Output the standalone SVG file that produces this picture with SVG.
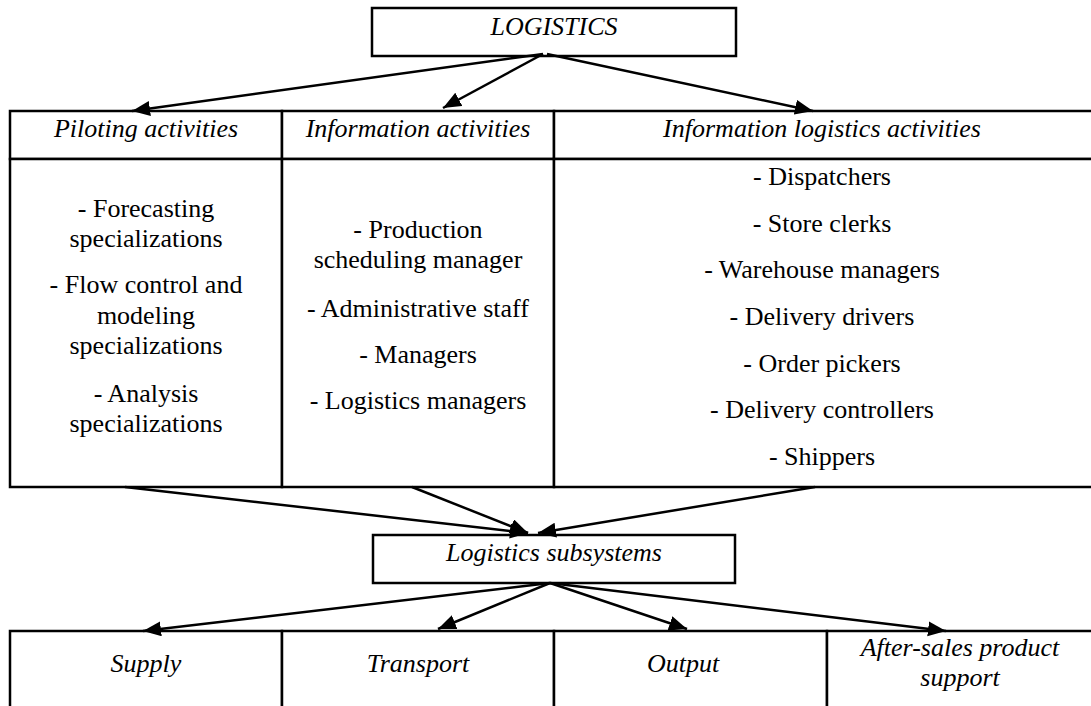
<svg xmlns="http://www.w3.org/2000/svg" width="1091" height="706" viewBox="0 0 1091 706">
  <defs>
    <marker id="head" markerUnits="userSpaceOnUse" markerWidth="20" markerHeight="16" refX="18" refY="7.5" orient="auto">
      <path d="M0,0 L18,7.5 L0,15 Z" fill="#000"/>
    </marker>
  </defs>

  <rect width="1091" height="706" fill="#fff"/>

  <!-- all node boxes share one outline style; all labels share one text style -->
  <g fill="#fff" stroke="#000" stroke-width="2.5">
    <rect x="372" y="8" width="364" height="48"/>
    <rect x="10" y="111" width="272" height="48"/>
    <rect x="10" y="159" width="272" height="328"/>
    <rect x="282" y="111" width="272" height="48"/>
    <rect x="282" y="159" width="272" height="328"/>
    <rect x="554" y="111" width="545" height="48"/>
    <rect x="554" y="159" width="545" height="328"/>
    <rect x="373" y="535" width="362" height="48"/>
    <rect x="10" y="631" width="272" height="90"/>
    <rect x="282" y="631" width="272" height="90"/>
    <rect x="554" y="631" width="273" height="90"/>
    <rect x="827" y="631" width="272" height="90"/>
  </g>

  <g font-size="26" text-anchor="middle" fill="#000">
    <!-- top node -->
    <g id="logistics">
      <text font-family="Liberation Serif" font-style="italic" x="554" y="35">LOGISTICS</text>
    </g>

    <!-- activity columns -->
    <g id="piloting">
      <text font-family="Liberation Serif" font-style="italic" x="146" y="137">Piloting activities</text>
      <text font-family="Liberation Serif" x="146" y="217">- Forecasting</text>
      <text font-family="Liberation Serif" x="146" y="247">specializations</text>
      <text font-family="Liberation Serif" x="146" y="293">- Flow control and</text>
      <text font-family="Liberation Serif" x="146" y="324">modeling</text>
      <text font-family="Liberation Serif" x="146" y="354">specializations</text>
      <text font-family="Liberation Serif" x="146" y="402">- Analysis</text>
      <text font-family="Liberation Serif" x="146" y="432">specializations</text>
    </g>

    <g id="information">
      <text font-family="Liberation Serif" font-style="italic" x="418" y="137">Information activities</text>
      <text font-family="Liberation Serif" x="418" y="238">- Production</text>
      <text font-family="Liberation Serif" x="418" y="268">scheduling manager</text>
      <text font-family="Liberation Serif" x="418" y="317">- Administrative staff</text>
      <text font-family="Liberation Serif" x="418" y="363">- Managers</text>
      <text font-family="Liberation Serif" x="418" y="409">- Logistics managers</text>
    </g>

    <g id="info-logistics">
      <text font-family="Liberation Serif" font-style="italic" x="822" y="137">Information logistics activities</text>
      <text font-family="Liberation Serif" x="822" y="185">- Dispatchers</text>
      <text font-family="Liberation Serif" x="822" y="232">- Store clerks</text>
      <text font-family="Liberation Serif" x="822" y="278">- Warehouse managers</text>
      <text font-family="Liberation Serif" x="822" y="325">- Delivery drivers</text>
      <text font-family="Liberation Serif" x="822" y="372">- Order pickers</text>
      <text font-family="Liberation Serif" x="822" y="418">- Delivery controllers</text>
      <text font-family="Liberation Serif" x="822" y="465">- Shippers</text>
    </g>

    <!-- middle node -->
    <g id="subsystems">
      <text font-family="Liberation Serif" font-style="italic" x="554" y="561">Logistics subsystems</text>
    </g>

    <!-- subsystem cells -->
    <g id="supply">
      <text font-family="Liberation Serif" font-style="italic" x="146" y="672">Supply</text>
    </g>
    <g id="transport">
      <text font-family="Liberation Serif" font-style="italic" x="418" y="672">Transport</text>
    </g>
    <g id="output">
      <text font-family="Liberation Serif" font-style="italic" x="683" y="672">Output</text>
    </g>
    <g id="after-sales">
      <text font-family="Liberation Serif" font-style="italic" x="960" y="656">After-sales product</text>
      <text font-family="Liberation Serif" font-style="italic" x="960" y="686">support</text>
    </g>
  </g>

  <!-- connectors -->
  <g id="connectors" fill="none" stroke="#000" stroke-width="2.5" marker-end="url(#head)">
    <path d="M543,54 L132,111"/>
    <path d="M543,54 L443,108"/>
    <path d="M547,54 L813,111"/>
    <path d="M125,487 L528,533"/>
    <path d="M412,487 L528,533"/>
    <path d="M815,487 L538,533"/>
    <path d="M550,583 L143,631"/>
    <path d="M550,583 L438,629"/>
    <path d="M550,583 L687,629"/>
    <path d="M550,583 L946,631"/>
  </g>
</svg>
